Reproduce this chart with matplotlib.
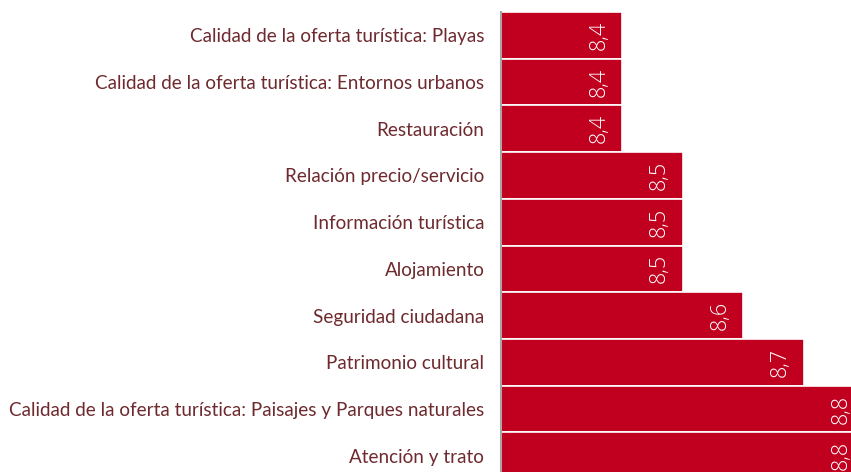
import matplotlib.pyplot as plt

categorias = [
    "Calidad de la oferta turística: Playas",
    "Calidad de la oferta turística: Entornos urbanos",
    "Restauración",
    "Relación precio/servicio",
    "Información turística",
    "Alojamiento",
    "Seguridad ciudadana",
    "Patrimonio cultural",
    "Calidad de la oferta turística: Paisajes y Parques naturales",
    "Atención y trato",
]
valores = [8.4, 8.4, 8.4, 8.5, 8.5, 8.5, 8.6, 8.7, 8.8, 8.8]

rojo = "#C1001F"
texto = "#6E2A2E"

fig = plt.figure(figsize=(8.51, 4.72), dpi=100)
ax = fig.add_axes([501 / 851, 0, 350 / 851, 1 - 12 / 472])

pos = list(range(len(categorias)))
bars = ax.barh(pos, valores, height=1.0, color=rojo, edgecolor="white", linewidth=1.2)

ax.set_xlim(8.2, 8.7785)
ax.set_ylim(9.35, -0.5)

ax.set_yticks(pos)
ax.set_yticklabels(categorias, fontsize=13.6, color=texto, family=["Lato", "DejaVu Sans"])
ax.tick_params(axis="y", length=0, pad=12)
ax.set_xticks([])

for s in ["top", "right", "bottom"]:
    ax.spines[s].set_visible(False)
ax.spines["left"].set_color("#A6A6A6")
ax.spines["left"].set_linewidth(1.5)

# etiquetas de valor giradas dentro de cada barra
for b, v in zip(bars, valores):
    ax.annotate(f"{v:.1f}".replace(".", ","),
                xy=(v, b.get_y() + b.get_height() / 2),
                xytext=(-9, 0), textcoords="offset points",
                rotation=90, ha="right", va="center",
                color="white", fontsize=15.5, fontweight="light",
                family=["Open Sans", "DejaVu Sans"], annotation_clip=False)

fig.savefig("out.png", dpi=100)
